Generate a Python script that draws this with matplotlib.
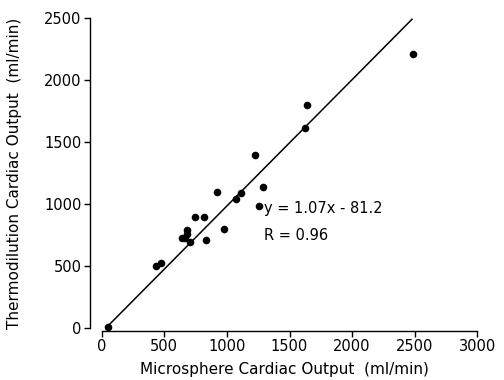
import matplotlib
matplotlib.use("Agg")
import matplotlib.pyplot as plt

micro_x = [50, 430, 475, 640, 680, 685, 665, 705, 745, 815, 835, 918, 977,
           1070, 1113, 1227, 1253, 1286, 1626, 1642, 2484]
thermo_y = [12, 505, 530, 730, 790, 760, 728, 695, 895, 895, 715, 1095, 800,
            1040, 1092, 1400, 982, 1142, 1613, 1801, 2210]
fit_x = [40, 2478]
fit_y = [8, 2492]
x_ticks = [0, 500, 1000, 1500, 2000, 2500, 3000]
y_ticks = [0, 500, 1000, 1500, 2000, 2500]
eq_text = "y = 1.07x - 81.2"
r_text = "R = 0.96"

fig = plt.figure(figsize=(5.04, 3.80), dpi=100)
ax = fig.add_axes([0.1786, 0.1297, 0.771, 0.8287])

ax.scatter(micro_x, thermo_y, s=30, color="black", zorder=3, linewidths=0)
ax.plot(fit_x, fit_y, color="black", lw=1.1)

ax.set_xlim(-93, 3010)
ax.set_ylim(-20, 2520)
ax.spines["top"].set_visible(False)
ax.spines["right"].set_visible(False)
ax.spines["bottom"].set_bounds(0, 3000)
ax.spines["left"].set_bounds(0, 2500)
for s in ("bottom", "left"):
    ax.spines[s].set_linewidth(1.0)

ax.set_xticks(x_ticks)
ax.set_yticks(y_ticks)
ax.tick_params(axis="x", direction="out", length=4, width=1, labelsize=10.5, pad=2)
ax.tick_params(axis="y", direction="out", length=4, width=1, labelsize=10.5, pad=2)

ax.set_xlabel("Microsphere Cardiac Output  (ml/min)", fontsize=11, labelpad=6)
ax.set_ylabel("Thermodilution Cardiac Output  (ml/min)", fontsize=11, labelpad=16)

ax.text(1300, 962, eq_text, fontsize=10.5, va="center", ha="left")
ax.text(1300, 744, r_text, fontsize=10.5, va="center", ha="left")

fig.savefig("out.png", dpi=100)
